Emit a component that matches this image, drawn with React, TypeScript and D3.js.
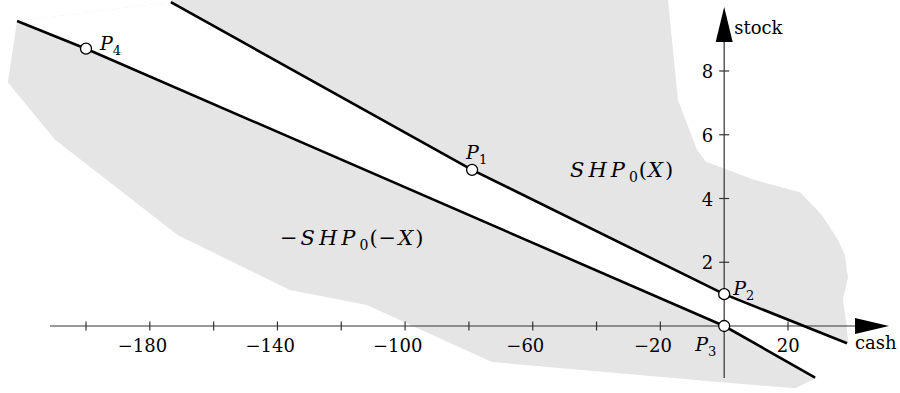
import { useEffect, useRef } from 'react';
import * as d3 from 'd3';

// shaded region outline (cash, stock)
const blobCash = [-221.6, -224.5, -209.7, -171.2, -136.1, -112, -72.8, 1.8, 22.2, 34.1, 39, 38.2, 37.2, 38.8, 37.8, 35.7, 30.6, 23.8, 9.6, -5.7, -8.5, -14.5, -17.6, -17.6, -172, -173.4];
const blobStock = [9.57, 7.65, 5.84, 2.85, 1.13, 0.66, -1.13, -1.79, -1.95, -1.38, -0.6, 0.13, 0.82, 1.51, 2.23, 2.7, 3.48, 4.2, 4.58, 5.15, 5.52, 7.09, 10.23, 10.8, 10.8, 10.16];

// SHP0(X) boundary
const upperCash = [-173.4, -79, 0, 38.5];
const upperStock = [10.16, 4.9, 1, -0.54];
// -SHP0(-X) boundary
const lowerCash = [-221.6, -200, 0, 28.5];
const lowerStock = [9.57, 8.7, 0, -1.62];

const pointNames = ['1', '2', '3', '4'];
const pointCash = [-79, 0, 0, -200];
const pointStock = [4.9, 1, 0, 8.7];

const xTicks = [-200, -180, -160, -140, -120, -100, -80, -60, -40, -20, 20];
const xTickLabels = [-180, -140, -100, -60, -20, 20];
const yTicks = [2, 4, 6, 8];

const FONT = 'DejaVu Serif';

const App = () => {
  const svgRef = useRef<SVGSVGElement | null>(null);

  useEffect(() => {
    const svg = d3.select(svgRef.current);
    svg.selectAll('*').remove();

    const x = d3.scaleLinear().domain([-200, 20]).range([86, 788]);
    const y = d3.scaleLinear().domain([0, 8]).range([326, 71]);
    const x0 = x(0);
    const y0 = y(0);

    const line = d3.line<[number, number]>().x(d => x(d[0])).y(d => y(d[1]));

    // gray region
    const blob: [number, number][] = blobCash.map((c, i) => [c, blobStock[i]]);
    svg.append('path')
      .attr('d', line(blob) + 'Z')
      .attr('fill', '#e5e5e5');

    // white band between the two boundaries
    const upper: [number, number][] = upperCash.map((c, i) => [c, upperStock[i]]);
    const lower: [number, number][] = lowerCash.map((c, i) => [c, lowerStock[i]]);
    const band: [number, number][] = [...upper, [60, -1.4], ...lower.slice().reverse()];
    svg.append('path')
      .attr('d', line(band) + 'Z')
      .attr('fill', '#fff');

    // axes
    svg.append('line')
      .attr('x1', 50).attr('x2', 858)
      .attr('y1', y0).attr('y2', y0)
      .attr('stroke', '#333').attr('stroke-width', 1.2);
    svg.append('path')
      .attr('d', `M889,${y0}L855,${y0 - 8}L855,${y0 + 8}Z`)
      .attr('fill', '#000');

    svg.append('line')
      .attr('x1', x0).attr('x2', x0)
      .attr('y1', 378).attr('y2', 40)
      .attr('stroke', '#333').attr('stroke-width', 1.2);
    svg.append('path')
      .attr('d', `M${x0},7L${x0 - 8.5},42L${x0 + 8.5},42Z`)
      .attr('fill', '#000');

    svg.selectAll('.xtick')
      .data(xTicks)
      .enter()
      .append('line')
      .attr('x1', d => x(d)).attr('x2', d => x(d))
      .attr('y1', y0 - 4.5).attr('y2', y0 + 4.5)
      .attr('stroke', '#333').attr('stroke-width', 1.2);

    svg.selectAll('.ytick')
      .data(yTicks)
      .enter()
      .append('line')
      .attr('x1', x0 - 5).attr('x2', x0 + 5)
      .attr('y1', d => y(d)).attr('y2', d => y(d))
      .attr('stroke', '#333').attr('stroke-width', 1.2);

    const txt = (sel: any, size: number) =>
      sel.style('font-family', FONT).style('font-size', size + 'px');

    // tick labels: digits centred on the tick, minus hangs left
    txt(svg.selectAll('.xlabel')
      .data(xTickLabels)
      .enter()
      .append('text')
      .attr('x', d => x(d) + String(Math.abs(d)).length * 5.8)
      .attr('y', y0 + 26)
      .attr('text-anchor', 'end'), 18)
      .text(d => (d < 0 ? '\u2212' + Math.abs(d) : String(d)));

    txt(svg.selectAll('.ylabel')
      .data(yTicks)
      .enter()
      .append('text')
      .attr('x', x0 - 11)
      .attr('y', d => y(d) + 7)
      .attr('text-anchor', 'end'), 18)
      .text(d => d);

    txt(svg.append('text').attr('x', x0 + 10).attr('y', 34), 18).text('stock');
    txt(svg.append('text').attr('x', 855).attr('y', 349), 18).text('cash');

    // boundaries
    [upper, lower].forEach(pts => {
      svg.append('path')
        .attr('d', line(pts))
        .attr('fill', 'none')
        .attr('stroke', '#000')
        .attr('stroke-width', 2.6)
        .attr('stroke-linejoin', 'round');
    });

    // marked points
    svg.selectAll('.pt')
      .data(pointNames)
      .enter()
      .append('circle')
      .attr('cx', (_, i) => x(pointCash[i]))
      .attr('cy', (_, i) => y(pointStock[i]))
      .attr('r', 5.5)
      .attr('fill', '#fff')
      .attr('stroke', '#000')
      .attr('stroke-width', 1.3);

    const labelOffset: Record<string, [number, number]> = {
      '1': [-6, -11],
      '2': [9, 1],
      '3': [-29, 25],
      '4': [14, 1],
    };
    pointNames.forEach((name, i) => {
      const [dx, dy] = labelOffset[name];
      const t = txt(svg.append('text')
        .attr('x', x(pointCash[i]) + dx)
        .attr('y', y(pointStock[i]) + dy), 19);
      t.append('tspan').style('font-style', 'italic').text('P');
      t.append('tspan').attr('dy', 5).style('font-size', '13px').text(name);
    });

    // region labels
    const mathLabel = (px: number, py: number, neg: boolean) => {
      const t = txt(svg.append('text').attr('x', px).attr('y', py), 21);
      if (neg) t.append('tspan').style('letter-spacing', '3px').text('\u2212');
      t.append('tspan').style('font-style', 'italic').style('letter-spacing', '4px').text('SHP');
      t.append('tspan').attr('dy', 5).style('font-size', '14px').style('letter-spacing', '1px').text('0');
      t.append('tspan').attr('dy', -5).style('letter-spacing', '1px').text('(');
      if (neg) t.append('tspan').style('letter-spacing', '2px').text('\u2212');
      t.append('tspan').style('font-style', 'italic').style('letter-spacing', '2px').text('X');
      t.append('tspan').text(')');
    };
    mathLabel(x(-48.3), y(4.67), false);
    mathLabel(x(-139.2), y(2.54), true);
  }, []);

  return (
    <svg
      ref={svgRef}
      width={900}
      height={393}
      style={{ position: 'absolute', left: 0, top: 0, background: '#fff' }}
    />
  );
};

export default App;
